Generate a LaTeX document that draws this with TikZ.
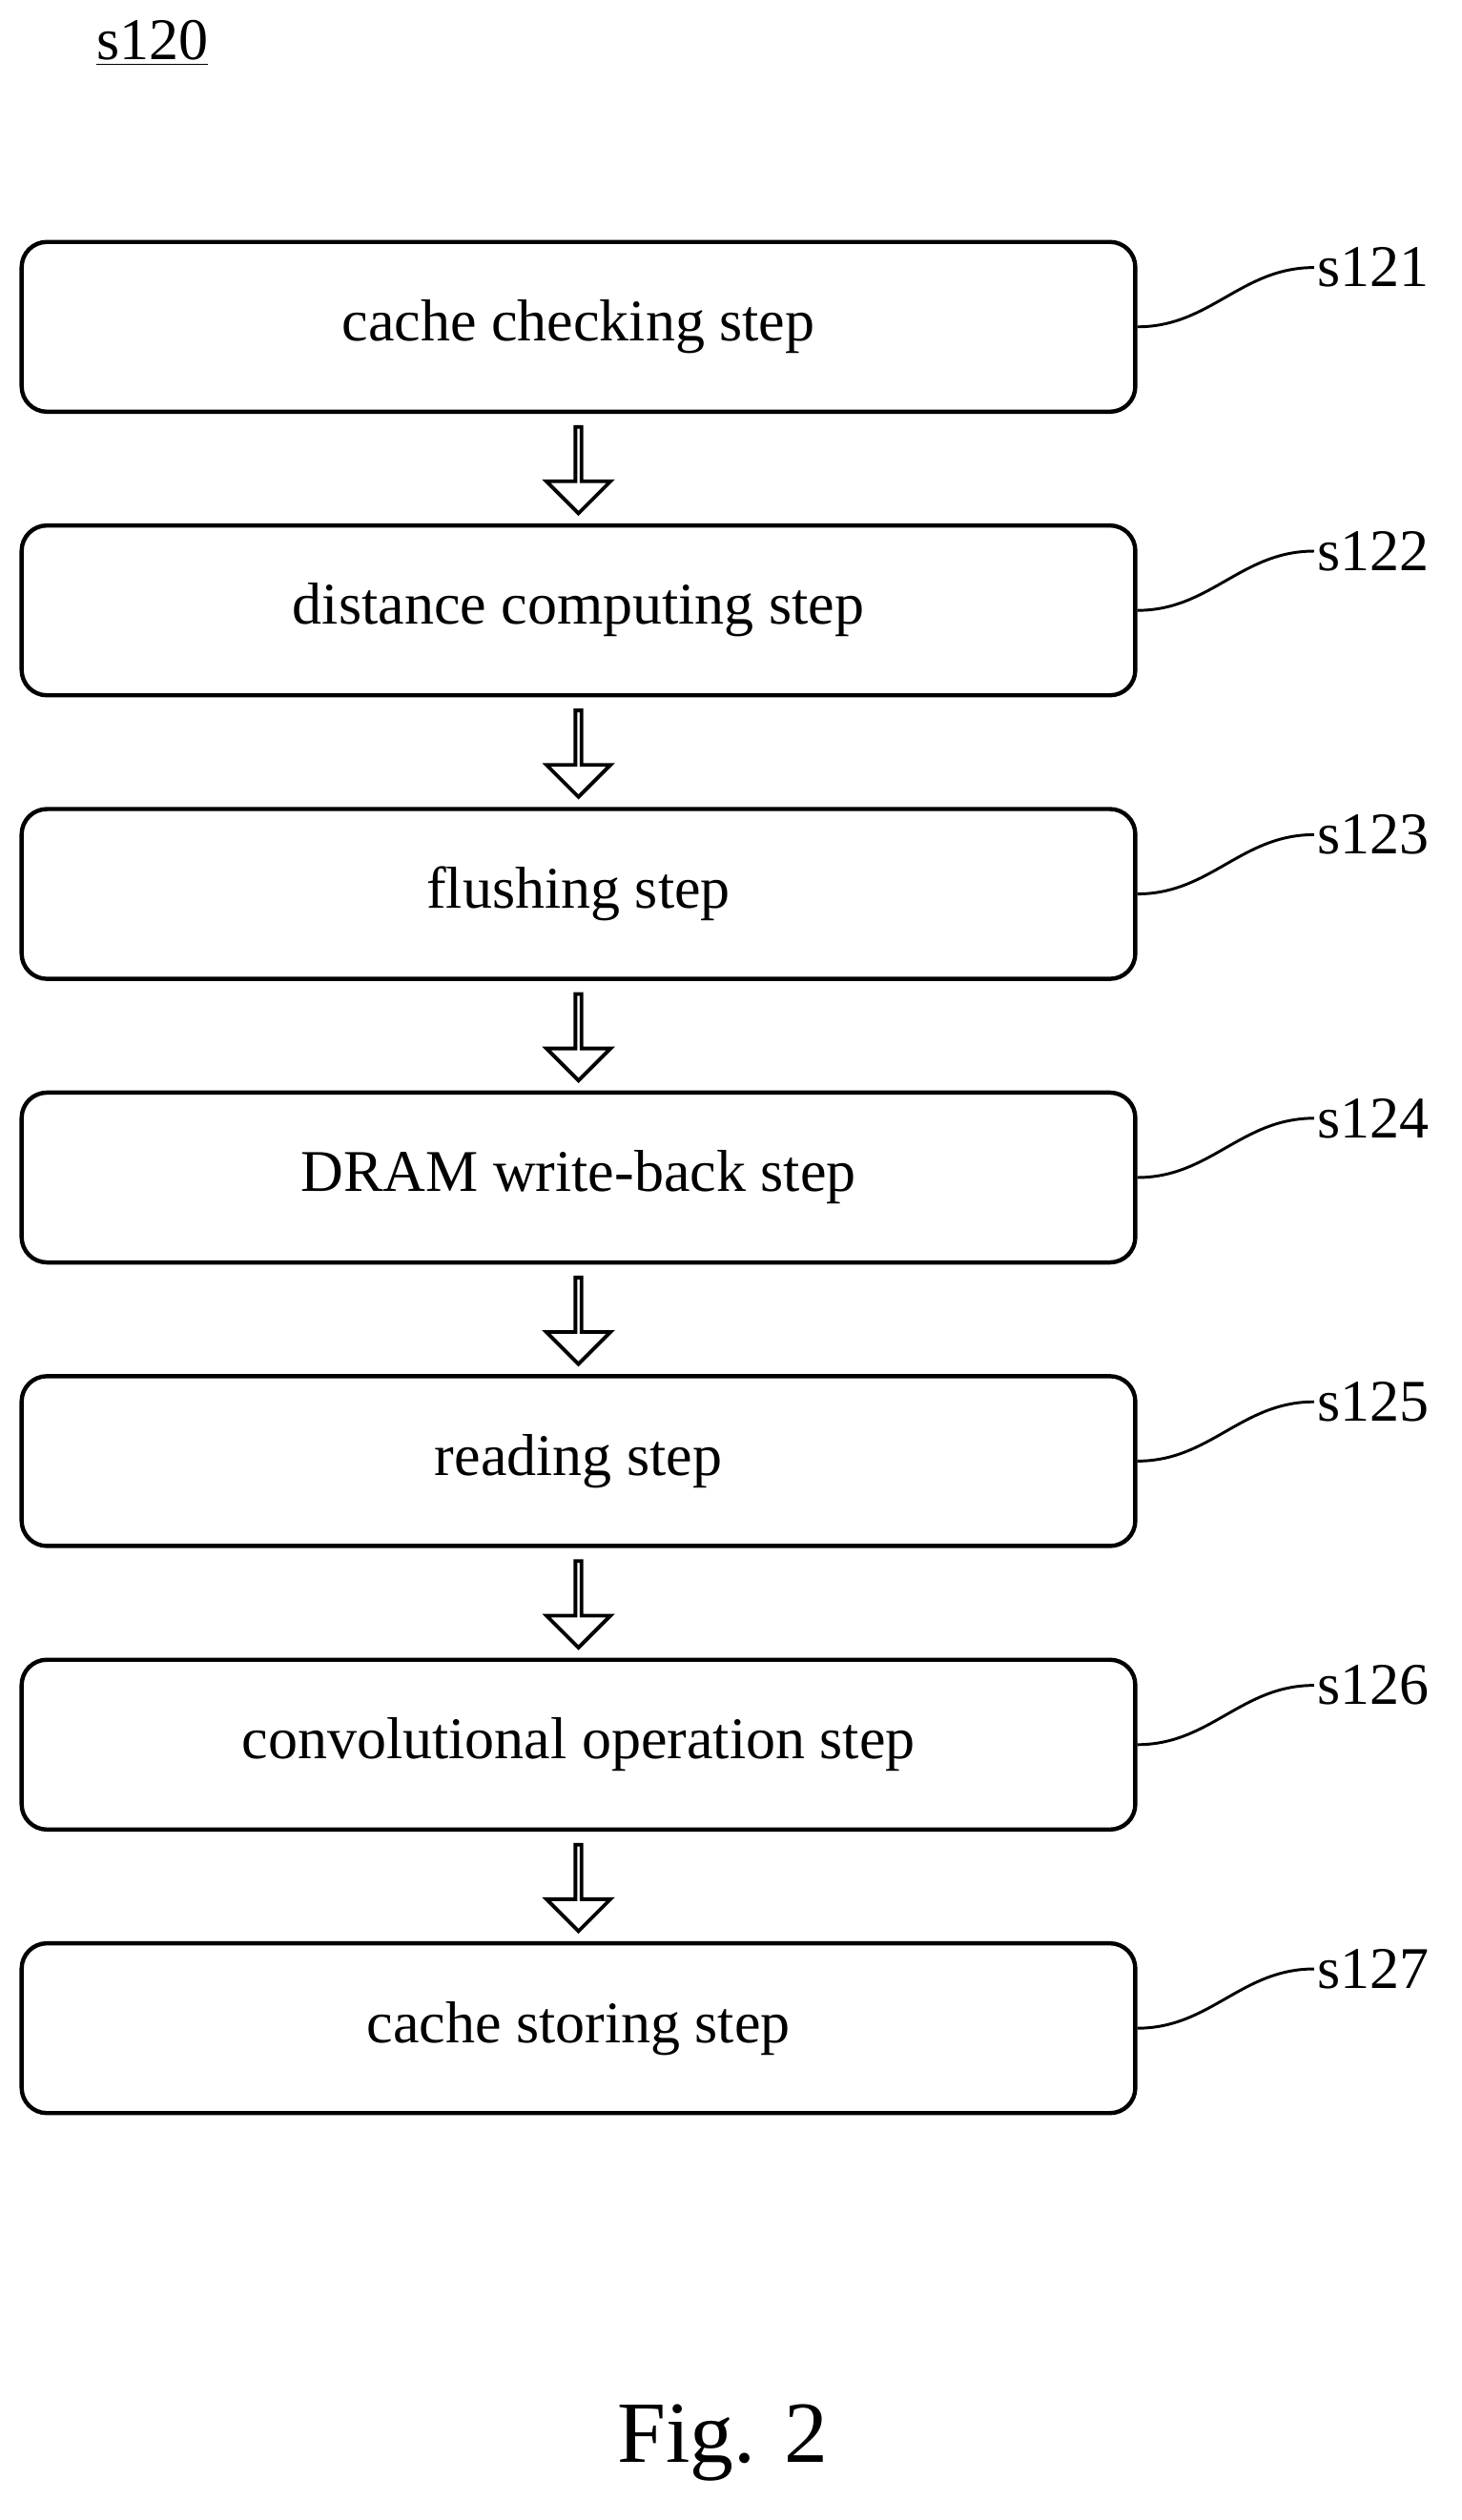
\documentclass[tikz,border=0pt]{standalone}
\usepackage{fontspec}
\setmainfont{Liberation Serif}
\usetikzlibrary{shapes.arrows,calc}

\tikzset{
	stepbox/.style={rectangle,draw,line width=1.5pt,rounded corners=9pt,minimum width=695*0.02cm,minimum height=106*0.02cm,font=\fontsize{21}{24}\selectfont},
	flow/.style={single arrow,draw,line width=1.3pt,rotate=-90,minimum height=54*0.02cm,minimum width=40*0.02cm,single arrow head extend=0.22cm,inner sep=0pt},
	tag/.style={font=\fontsize{21}{24}\selectfont,anchor=west,inner sep=1pt}
}

\begin{document}
\begin{tikzpicture}[x=0.02cm,y=-0.02cm]
		\useasboundingbox (0,0) rectangle (912,1573);
		\node (title) [font=\fontsize{21}{24}\selectfont] at (95,27) {\underline{s120}};
		\foreach \i/\txt in {1/cache checking step,2/distance computing step,3/flushing step,4/DRAM write-back step,5/reading step,6/convolutional operation step,7/cache storing step}
		{
			\node (step\i) [stepbox] at (361,{204+177*(\i-1)}) {\txt};
			\node (lab\i) [tag] at (820,{167+177*(\i-1)}) {s12\i};
			\draw[line width=1pt] (step\i.east) to[out=0,in=180] (lab\i.west);
		}
		\foreach \i [count=\j from 2] in {1,...,6}
			\node (arr\i) [flow] at ($(step\i.south)!0.5!(step\j.north)$) {};
		\node (fig) [font=\fontsize{31}{36}\selectfont] at (451,1525) {Fig. 2};
	\end{tikzpicture}
\end{document}
